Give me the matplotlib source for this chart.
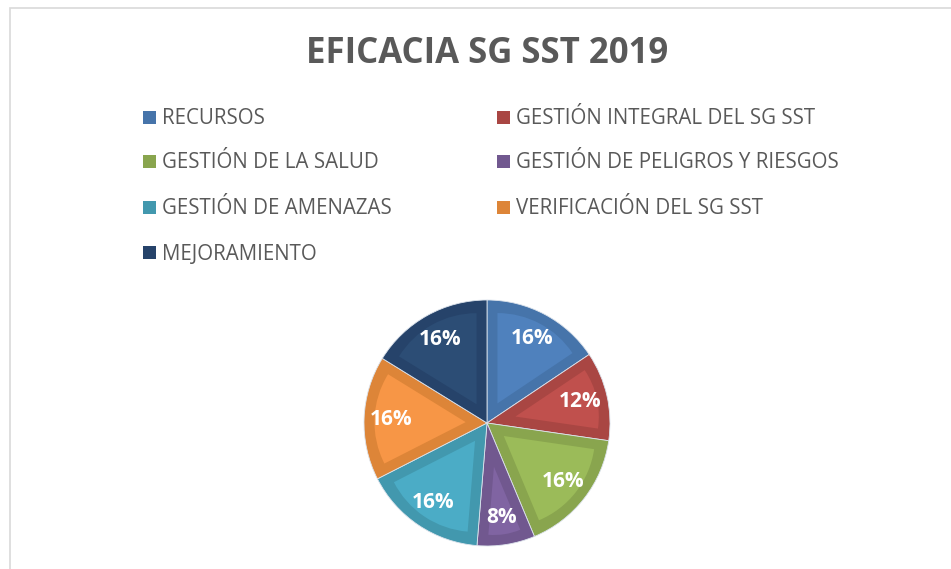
import numpy as np
import matplotlib.pyplot as plt
from matplotlib.patches import Rectangle, Wedge

# data (shares; labels show them rounded)
categories = ["RECURSOS", "GESTIÓN INTEGRAL DEL SG SST", "GESTIÓN DE LA SALUD",
              "GESTIÓN DE PELIGROS Y RIESGOS", "GESTIÓN DE AMENAZAS",
              "VERIFICACIÓN DEL SG SST", "MEJORAMIENTO"]
values = [15.6, 11.7, 16.4, 7.6, 16.2, 16.3, 16.2]
fill_colors = ["#4F81BD", "#C0504D", "#9BBB59", "#8064A2", "#4BACC6", "#F79646", "#2C4D75"]
edge_colors = ["#4674AA", "#A94643", "#89A54E", "#71588F", "#4298AE", "#DD8538", "#26436A"]
title = "EFICACIA SG SST 2019"

W, H = 951, 569
fig = plt.figure(figsize=(W / 100, H / 100), dpi=100)
txt_col = "#595959"
font = ["Open Sans", "DejaVu Sans"]

# chart frame (cut at right and bottom)
fig.add_artist(Rectangle((10 / W, -0.1), 1.2, 1 - 8 / H + 0.1, transform=fig.transFigure,
                         facecolor="none", edgecolor="#D9D9D9", linewidth=1.2))

fig.text(487 / W, 1 - 54 / H, title, ha="center", va="center", fontsize=25,
         fontweight="bold", color=txt_col, family=font)

# legend, row-wise, two columns
rows_y = [117, 161, 207, 252]
cols_x = [143, 497]
for i, (lab, c) in enumerate(zip(categories, edge_colors)):
    x = cols_x[i % 2]
    y = rows_y[i // 2]
    fig.add_artist(Rectangle((x / W, 1 - (y + 7) / H), 13 / W, 13 / H,
                             transform=fig.transFigure, facecolor=c, edgecolor="none"))
    fig.text((x + 19) / W, 1 - (y + 2) / H, lab, ha="left", va="center", fontsize=14.8,
             color=txt_col, family=font)

# pie
cx, cy, r = 487, 423, 123
ax = fig.add_axes([(cx - r) / W, 1 - (cy + r) / H, 2 * r / W, 2 * r / H])
wedges, texts, autotexts = ax.pie(values, colors=edge_colors, startangle=90, counterclock=False,
                                  autopct="%1.0f%%", pctdistance=0.78, radius=1,
                                  wedgeprops=dict(edgecolor="#DCE3EC", linewidth=0.6),
                                  textprops=dict(color="white", fontsize=15, fontweight="bold",
                                                 family=font))
# lighter inner part of each slice, inset by a band
band = 0.085
for w, fc in zip(wedges, fill_colors):
    t1, t2 = w.theta1, w.theta2
    mid = np.deg2rad((t1 + t2) / 2)
    half = np.deg2rad(abs(t2 - t1) / 2)
    s = band / np.sin(half)
    r_in = 1 - band - s
    inner = Wedge((s * np.cos(mid), s * np.sin(mid)), r_in, t1, t2,
                  facecolor=fc, edgecolor="none", zorder=w.get_zorder() + 0.5)
    ax.add_patch(inner)
for t in autotexts:
    t.set_zorder(5)
ax.set_xlim(-1, 1)
ax.set_ylim(-1, 1)
ax.set_aspect("equal")
ax.axis("off")

fig.savefig("out.png", dpi=100)
